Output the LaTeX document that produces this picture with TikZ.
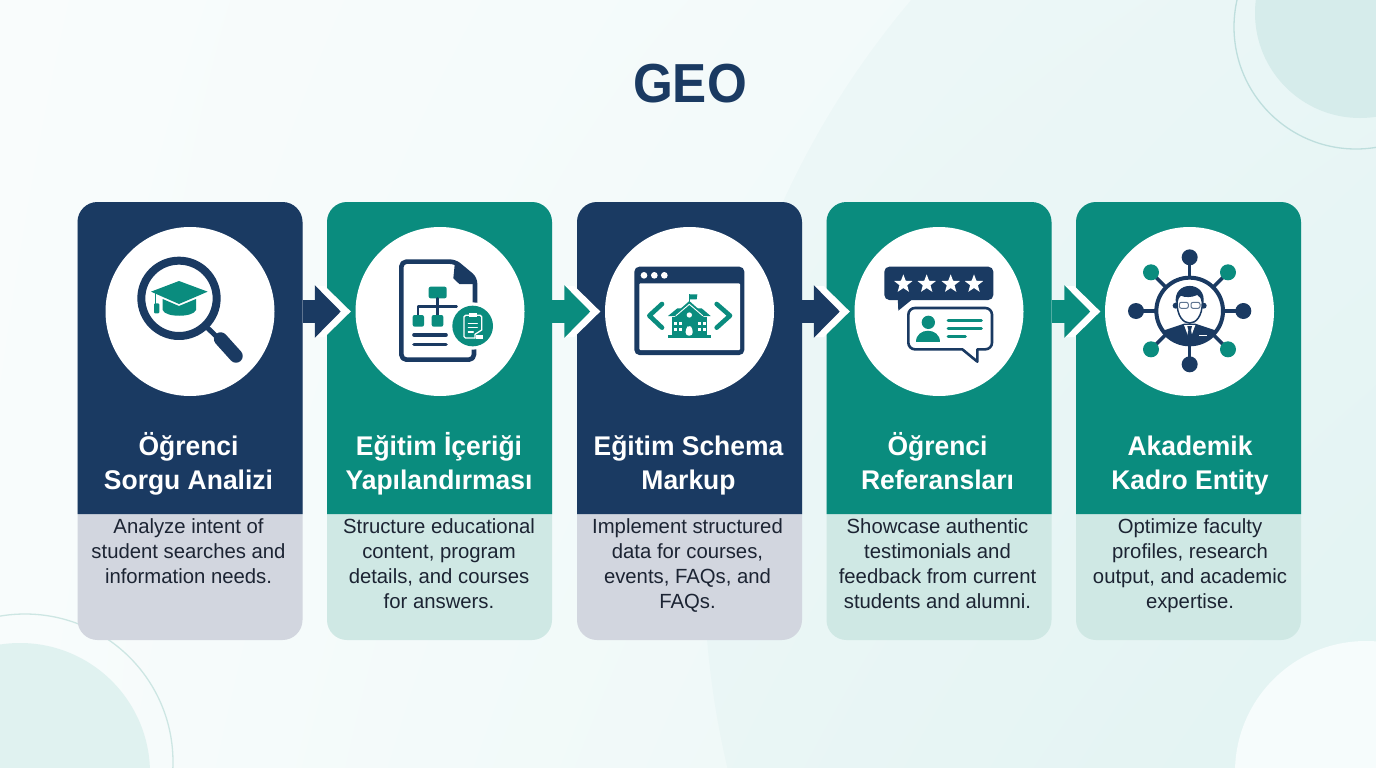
\documentclass[tikz,border=0pt]{standalone}
\usepackage{fontspec}
\setmainfont{Liberation Sans}
\newfontfamily\headfont[FakeStretch=0.98]{Liberation Sans Bold}
\newfontfamily\titlefont[FakeStretch=0.93]{Liberation Sans Bold}
\newfontfamily\bodyfont[FakeStretch=0.99]{Liberation Sans}
\usetikzlibrary{arrows.meta,calc,shadings}
\definecolor{navy}{HTML}{1A3A62}
\definecolor{teal2}{HTML}{0A8C7E}
\definecolor{lnavy}{HTML}{D2D6DF}
\definecolor{lteal}{HTML}{CFE8E4}
\definecolor{ink}{HTML}{1C2433}
\definecolor{bgtl}{HTML}{F9FCFC}
\definecolor{bgtr}{HTML}{EFF9F9}
\definecolor{bgbl}{HTML}{F8FCFC}
\definecolor{bgbr}{HTML}{E8F6F5}
\definecolor{cornera}{HTML}{D6ECEB}
\definecolor{ringa}{HTML}{BEDEDD}
\definecolor{cornerb}{HTML}{E0F2F0}
\definecolor{ringb}{HTML}{CDE6E3}
\definecolor{cornerc}{HTML}{F6FCFC}
\tikzset{
  cardbody/.style={rectangle,rounded corners=20pt,minimum width=225pt,minimum height=438pt,inner sep=0pt,draw=none},
  disc/.style={circle,fill=white,minimum size=169pt,inner sep=0pt},
  headtxt/.style={text=white,align=center,inner sep=0pt,font=\headfont\fontsize{27}{34}\selectfont},
  bodytxt/.style={text=ink,align=center,inner sep=0pt,anchor=north,font=\bodyfont\fontsize{20.5}{25}\selectfont},
  zoomed/.style={x=0.33333pt,y=-0.33333pt},
  nline/.style={draw=navy,line cap=round,line join=round},
  tline/.style={draw=teal2,line cap=round,line join=round},
  wline/.style={draw=white,line cap=round,line join=round},
}
\newcommand{\cardhead}[3]{\fill[#1] (#2,514) [rounded corners=20pt] -- (#2,202) -- (#3,202) [sharp corners] -- (#3,514) -- cycle;}
\newcommand{\fatarrow}[4]{%
  \coordinate (tip#2) at ($(#3.west)+(-14.5,0)$);
  \fill[white] ($(tip#2)+(-26,-25.5)$) -- ($(tip#2)+(-16,-25.5)$) -- ($(tip#2)+(10,0)$) -- ($(tip#2)+(-16,25.5)$) -- ($(tip#2)+(-26,25.5)$) -- cycle;
  \draw[#4,line width=23pt,-{Triangle[length=26pt,width=51pt]}] (#1.east |- #2) -- (tip#2);
}
\newcommand{\starat}[3]{\fill[white] (#1,#2)+(-90:#3)
  -- +(-54:#3*0.42) -- +(-18:#3) -- +(18:#3*0.42) -- +(54:#3) -- +(90:#3*0.42) -- +(126:#3) -- +(162:#3*0.42) -- +(198:#3) -- +(234:#3*0.42) -- cycle;}
\begin{document}
\begin{tikzpicture}[x=1pt,y=-1pt]
\useasboundingbox (0,0) rectangle (1376,768);
\shade[upper left=bgtl,upper right=bgtr,lower left=bgbl,lower right=bgbr] (0,0) rectangle (1376,768);
\begin{scope}
\clip (0,0) rectangle (1376,768);
\fill[teal2,opacity=0.025] (1581,566) circle (877);
\fill[cornera] (1360,13) circle (105);
\draw[ringa,line width=1.3pt] (1356,27) circle (122);
\fill[cornerb] (20,773) circle (130);
\draw[ringb,line width=1.3pt] (25,762) circle (148);
\fill[cornerc] (1366,772) circle (131);
\end{scope}

\node[text=navy,inner sep=0pt,font=\titlefont\fontsize{55}{55}\selectfont] (title) at (690,84) {GEO};

% cards
\node[cardbody,fill=lnavy] (c1) at (190,421) {};
\node[cardbody,fill=lteal] (c2) at (439.5,421) {};
\node[cardbody,fill=lnavy] (c3) at (689.5,421) {};
\node[cardbody,fill=lteal] (c4) at (939,421) {};
\node[cardbody,fill=lteal] (c5) at (1188.5,421) {};
\cardhead{navy}{77.5}{302.5}
\cardhead{teal2}{327}{552}
\cardhead{navy}{577}{802}
\cardhead{teal2}{826.5}{1051.5}
\cardhead{teal2}{1076}{1301}

\node[disc] (n1) at (190,311.5) {};
\node[disc] (n2) at (440,311.5) {};
\node[disc] (n3) at (689.5,311.5) {};
\node[disc] (n4) at (939,311.5) {};
\node[disc] (n5) at (1189.5,311.5) {};

% connectors
\fatarrow{c1}{n1}{n2}{navy}
\fatarrow{c2}{n2}{n3}{teal2}
\fatarrow{c3}{n3}{n4}{navy}
\fatarrow{c4}{n4}{n5}{teal2}

% headings
\node[headtxt] (h1) at (188.5,465.2) {\strut Öğrenci\\\strut Sorgu Analizi};
\node[headtxt] (h2) at (439,465.2) {\strut Eğitim İçeriği\\\strut Yapılandırması};
\node[headtxt] (h3) at (688.5,465.2) {\strut Eğitim Schema\\\strut Markup};
\node[headtxt] (h4) at (937.5,465.2) {\strut Öğrenci\\\strut Referansları};
\node[headtxt] (h5) at (1190,465.2) {\strut Akademik\\\strut Kadro Entity};

% descriptions
\node[bodytxt] (b1) at (188.5,515.5) {\strut Analyze intent of\\student searches and\\information needs.};
\node[bodytxt] (b2) at (439,515.5) {\strut Structure educational\\content, program\\details, and courses\\for answers.};
\node[bodytxt] (b3) at (687.5,515.5) {\strut Implement structured\\data for courses,\\events, FAQs, and\\FAQs.};
\node[bodytxt] (b4) at (937.5,515.5) {\strut Showcase authentic\\testimonials and\\feedback from current\\students and alumni.};
\node[bodytxt] (b5) at (1190,515.5) {\strut Optimize faculty\\profiles, research\\output, and academic\\expertise.};

% icon 1: magnifier and cap
\begin{scope}[shift={(70,195)},zoomed]
\draw[nline,line width=8pt] (327,310) circle (113);
\draw[nline,line width=5pt] (412,398) -- (445,430);
\draw[nline,line width=13.5pt] (452,432) -- (498,483);
\fill[teal2] (278,312) -- (327,333) -- (378,312) -- (378,345) .. controls (370,368) and (285,368) .. (278,345) -- cycle;
\fill[teal2] (243,290) -- (327,258) -- (413,290) -- (327,327) -- cycle;
\draw[teal2,line width=1.3pt] (257,295) -- (257,330);
\fill[teal2,rounded corners=1pt] (252,325) rectangle (268,355);
\end{scope}

% icon 2: document with chart and badge
\begin{scope}[shift={(340,215)},zoomed]
\fill[navy] (345,140) -- (405,195) -- (405,207) -- (358,207) -- (340,190) -- cycle;
\draw[nline,line width=4.6pt,rounded corners=5pt] (405,290) -- (405,190) -- (345,140) -- (184,140) -- (184,434) -- (402,434) -- (402,390);
\fill[teal2,rounded corners=2pt] (266,215) rectangle (320,250);
\draw[nline,line width=2.4pt] (293,250) -- (293,300);
\draw[nline,line width=2.4pt] (234,300) -- (234,275) -- (350,275);
\fill[teal2,rounded corners=2pt] (218,300) rectangle (252,335);
\fill[teal2,rounded corners=2pt] (275,300) rectangle (310,335);
\draw[nline,line width=3.6pt] (222,360) -- (318,360);
\draw[nline,line width=3.6pt] (222,389) -- (318,389);
\fill[white] (398,333) circle (71);
\fill[teal2] (398,333) circle (61);
\draw[wline,line width=1.3pt,rounded corners=1.5pt] (425,345) -- (425,301) -- (372,301) -- (372,369) -- (405,369);
\draw[wline,line width=1.3pt] (405,369) -- (405,358) -- (425,345);
\fill[white] (386,293) rectangle (410,306);
\draw[wline,line width=1.2pt] (385,325) -- (412,325);
\draw[wline,line width=1.2pt] (385,338) -- (412,338);
\draw[wline,line width=1.2pt] (385,351) -- (400,351);
\fill[white] (408,360) -- (430,360) -- (430,372) -- (408,372) -- cycle;
\end{scope}

% icon 3: browser window and school
\begin{scope}[shift={(590,215)},zoomed]
\fill[navy,rounded corners=5pt] (133,155) rectangle (463,420);
\fill[white,rounded corners=1pt] (148,205) rectangle (450,405);
\foreach \dx in {162,193,223} {\fill[white] (\dx,181) circle (10);}
\draw[tline,line width=4.6pt] (216,267) -- (178,302) -- (216,338);
\draw[tline,line width=4.6pt] (380,267) -- (420,302) -- (380,338);
\draw[teal2,line width=1pt] (298,238) -- (298,262);
\fill[teal2] (298,238) -- (322,238) -- (320,253) -- (298,253) -- cycle;
\fill[teal2] (245,305) rectangle (350,362);
\fill[teal2] (234,303) -- (262,280) -- (335,280) -- (362,303) -- cycle;
\fill[teal2] (234,360) rectangle (362,368);
\fill[teal2] (298,258) -- (340,295) -- (340,320) -- (256,320) -- (256,295) -- cycle;
\draw[wline,line width=0.9pt] (258,302) -- (298,268) -- (338,302);
\fill[white] (298,300) circle (8);
\fill[white,rounded corners=3pt] (287,362) -- (287,340) -- (298,330) -- (308,340) -- (308,362) -- cycle;
\foreach \wx in {252,267,323,338} {\foreach \wy in {322,338} {\fill[white] (\wx,\wy) rectangle +(9,9);}}
\end{scope}

% icon 4: rating and testimonial bubbles
\begin{scope}[shift={(840,215)},zoomed]
\fill[navy,rounded corners=5pt] (133,155) rectangle (460,255);
\fill[navy] (173,245) -- (175,287) -- (218,252) -- cycle;
\starat{190}{207}{29}
\starat{260}{207}{29}
\starat{332}{207}{29}
\starat{402}{207}{29}
\draw[nline,line width=2.6pt,fill=white] (225,279) -- (436,279) arc (-90:0:20) -- (456,383) arc (0:90:20) -- (412,403) -- (412,440) -- (367,403) -- (225,403) arc (90:180:20) -- (205,299) arc (180:270:20) -- cycle;
\fill[teal2] (265,322) circle (20);
\fill[teal2] (228,380) .. controls (228,335) and (300,335) .. (300,380) -- cycle;
\draw[tline,line width=3pt] (324,316) -- (424,316);
\draw[tline,line width=3pt] (324,340) -- (424,340);
\draw[tline,line width=3pt] (324,365) -- (376,365);
\end{scope}

% icon 5: faculty network
\begin{scope}[shift={(1060,215)},zoomed]
\foreach \sx/\sy in {389/127,228/288,550/288,389/448,273/172,504/172,273/403,504/403} {\draw[navy,line width=3.5pt] (389,288) -- (\sx,\sy);}
\foreach \sx/\sy in {389/127,228/288,550/288,389/448} {\fill[navy] (\sx,\sy) circle (24);}
\foreach \sx/\sy in {273/172,504/172,273/403,504/403} {\fill[teal2] (\sx,\sy) circle (24);}
\fill[white] (389,288) circle (100);
\begin{scope}
\clip (389,288) circle (100);
\fill[navy] (290,420) -- (300,350) -- (372,326) -- (406,326) -- (478,350) -- (490,420) -- cycle;
\fill[white] (372,330) -- (389,376) -- (406,330) -- cycle;
\fill[navy] (382,333) -- (396,333) -- (393,345) -- (398,372) -- (389,382) -- (380,372) -- (385,345) -- cycle;
\fill[white] (418,360) rectangle (440,364);
\end{scope}
\draw[navy,line width=4pt] (389,288) circle (100);
\fill[navy] (347,272) circle (9);
\fill[navy] (431,272) circle (9);
\draw[navy,line width=1.5pt,fill=white] (351,262) .. controls (351,345) and (427,345) .. (427,262) .. controls (427,220) and (351,220) .. (351,262) -- cycle;
\fill[navy] (348,266) .. controls (335,195) and (443,195) .. (430,266) .. controls (426,252) and (420,245) .. (412,240) .. controls (395,248) and (375,248) .. (362,242) .. controls (355,248) and (352,255) .. (348,266) -- cycle;
\draw[navy!70,line width=1pt,rounded corners=2pt] (358,262) rectangle (385,280);
\draw[navy!70,line width=1pt,rounded corners=2pt] (393,262) rectangle (420,280);
\end{scope}
\end{tikzpicture}
\end{document}
